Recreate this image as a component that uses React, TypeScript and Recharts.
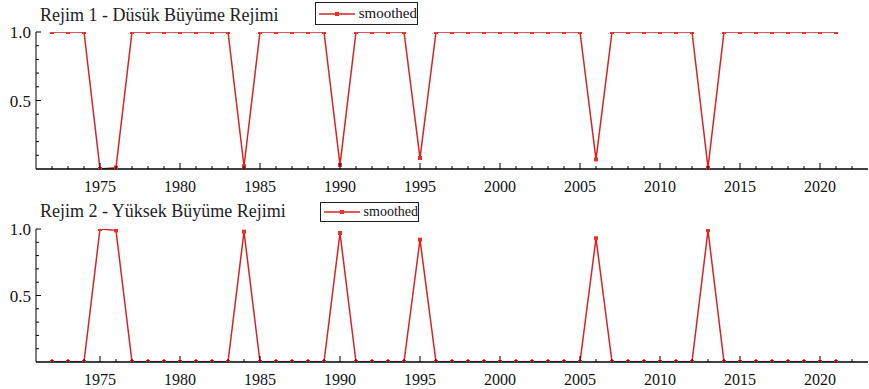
import React from "react";
import { LineChart, Line, XAxis, YAxis } from "recharts";

const years = [
  1972, 1973, 1974, 1975, 1976, 1977, 1978, 1979, 1980, 1981,
  1982, 1983, 1984, 1985, 1986, 1987, 1988, 1989, 1990, 1991,
  1992, 1993, 1994, 1995, 1996, 1997, 1998, 1999, 2000, 2001,
  2002, 2003, 2004, 2005, 2006, 2007, 2008, 2009, 2010, 2011,
  2012, 2013, 2014, 2015, 2016, 2017, 2018, 2019, 2020, 2021,
];

const regime1 = [
  1, 1, 1, 0.0, 0.01, 1, 1, 1, 1, 1,
  1, 1, 0.02, 1, 1, 1, 1, 1, 0.03, 1,
  1, 1, 1, 0.08, 1, 1, 1, 1, 1, 1,
  1, 1, 1, 1, 0.07, 1, 1, 1, 1, 1,
  1, 0.01, 1, 1, 1, 1, 1, 1, 1, 1,
];

const regime2 = [
  0, 0, 0, 1.0, 0.99, 0, 0, 0, 0, 0,
  0, 0, 0.98, 0, 0, 0, 0, 0, 0.97, 0,
  0, 0, 0, 0.92, 0, 0, 0, 0, 0, 0,
  0, 0, 0, 0, 0.93, 0, 0, 0, 0, 0,
  0, 0.99, 0, 0, 0, 0, 0, 0, 0, 0,
];

const xTicks = [
  1972, 1973, 1974, 1975, 1976, 1977, 1978, 1979, 1980, 1981,
  1982, 1983, 1984, 1985, 1986, 1987, 1988, 1989, 1990, 1991,
  1992, 1993, 1994, 1995, 1996, 1997, 1998, 1999, 2000, 2001,
  2002, 2003, 2004, 2005, 2006, 2007, 2008, 2009, 2010, 2011,
  2012, 2013, 2014, 2015, 2016, 2017, 2018, 2019, 2020, 2021, 2022,
];
const xLabels = [1975, 1980, 1985, 1990, 1995, 2000, 2005, 2010, 2015, 2020];
const yTicks = [0.1, 0.2, 0.3, 0.4, 0.5, 0.6, 0.7, 0.8, 0.9, 1.0];
const yLabels = [0.5, 1.0];

const titles = ["Rejim 1 - Düsük Büyüme Rejimi", "Rejim 2 - Yüksek Büyüme Rejimi"];
const seriesName = "smoothed";

const data1 = years.map((y, i) => ({ year: y, smoothed: regime1[i] }));
const data2 = years.map((y, i) => ({ year: y, smoothed: regime2[i] }));

const FONT = "'Liberation Serif', 'DejaVu Serif', serif";
const LINE = "#d42424";
const DOT = "#e8302c";

const XTick = (props: any) => {
  const { x, y, payload } = props;
  const v = payload.value;
  const major = xLabels.includes(v);
  return (
    <g>
      <line x1={x} x2={x} y1={y} y2={y - (major ? 6 : 3)} stroke="#000" strokeWidth={1} />
      {major && (
        <text x={x} y={y + 23} textAnchor="middle" style={{ fontFamily: FONT, fontSize: 16 }} fill="#111">
          {v}
        </text>
      )}
    </g>
  );
};

const YTick = (props: any) => {
  const { x, y, payload } = props;
  const v = payload.value;
  const major = yLabels.some((l) => Math.abs(l - v) < 1e-6);
  return (
    <g>
      <line x1={x} x2={x + (major ? 5 : 3)} y1={y} y2={y} stroke="#000" strokeWidth={1} />
      {major && (
        <text x={x - 5} y={y + 6} textAnchor="end" style={{ fontFamily: FONT, fontSize: 17 }} fill="#111">
          {v.toFixed(1)}
        </text>
      )}
    </g>
  );
};

const SquareDot = (props: any) => {
  const { cx, cy, index } = props;
  if (cx == null || cy == null) return <g key={index} />;
  return <rect key={index} x={cx - 2} y={cy - 2} width={4} height={4} fill={DOT} />;
};

const LegendBox = ({ left, top, fontSize, w, h }: any) => (
  <div
    style={{
      position: "absolute",
      left,
      top,
      border: "1px solid #222",
      width: w,
      height: h,
      boxSizing: "border-box",
      display: "flex",
      alignItems: "center",
      background: "#fff",
      fontFamily: FONT,
      fontSize,
      color: "#111",
      zIndex: 2,
    }}
  >
    <svg width={38} height={10} style={{ marginLeft: 3, marginRight: 2 }}>
      <line x1={0} x2={36} y1={5} y2={5} stroke={LINE} strokeWidth={1.5} />
      <rect x={16} y={3} width={4} height={4} fill={DOT} />
    </svg>
    <span>{seriesName}</span>
  </div>
);

const Panel = ({ data, height, xAxisHeight, title, legend, titleTop }: any) => (
  <div style={{ position: "relative", width: 869, height }}>
    <div
      style={{
        position: "absolute",
        left: 40,
        top: titleTop,
        fontFamily: FONT,
        fontSize: 18,
        color: "#222",
        whiteSpace: "nowrap",
        lineHeight: "18px",
        zIndex: 2,
      }}
    >
      {title}
    </div>
    <LegendBox {...legend} />
    <LineChart
      width={869}
      height={height}
      data={data}
      margin={{ top: 32, right: 1, bottom: 0, left: 0 }}
    >
      <XAxis
        dataKey="year"
        type="number"
        domain={[1971, 2023]}
        ticks={xTicks}
        interval={0}
        tickSize={0}
        tickMargin={0}
        tickLine={false}
        tick={<XTick />}
        height={xAxisHeight}
        axisLine={{ stroke: "#000", strokeWidth: 1.5 }}
        allowDataOverflow
      />
      <YAxis
        type="number"
        domain={[0, 1]}
        ticks={yTicks}
        interval={0}
        tickSize={0}
        tickMargin={0}
        tickLine={false}
        tick={<YTick />}
        width={36}
        axisLine={{ stroke: "#000", strokeWidth: 1 }}
        allowDataOverflow
      />
      <Line
        type="linear"
        dataKey="smoothed"
        stroke={LINE}
        strokeWidth={1.5}
        dot={<SquareDot />}
        activeDot={false}
        isAnimationActive={false}
      />
    </LineChart>
  </div>
);

export default function App() {
  return (
    <div style={{ position: "absolute", left: 0, top: 0, width: 869, height: 389, background: "#fff" }}>
      <Panel
        data={data1}
        height={197}
        xAxisHeight={28}
        title={titles[0]}
        titleTop={6}
        legend={{ left: 315, top: 2, fontSize: 15, w: 103, h: 23 }}
      />
      <Panel
        data={data2}
        height={192}
        xAxisHeight={27}
        title={titles[1]}
        titleTop={5}
        legend={{ left: 320, top: 5, fontSize: 14, w: 99, h: 20 }}
      />
    </div>
  );
}
